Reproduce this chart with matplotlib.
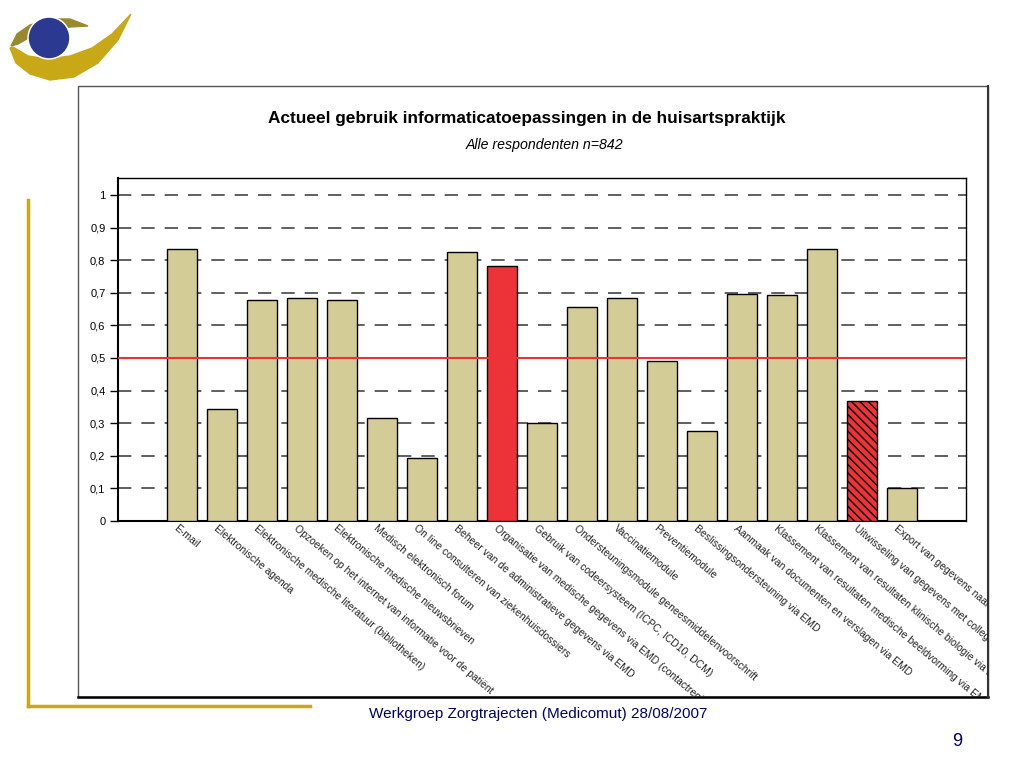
import numpy as np
import matplotlib
matplotlib.use("Agg")
import matplotlib.pyplot as plt
from matplotlib.patches import Rectangle, Circle, Polygon

plt.rcParams['font.family'] = ['Liberation Sans', 'DejaVu Sans']
plt.rcParams['hatch.color'] = '#333333'

labels = [
    "E-mail",
    "Elektronische agenda",
    "Elektronische medische literatuur (bibliotheken)",
    "Opzoeken op het internet van informatie voor de patiënt",
    "Elektronische medische nieuwsbrieven",
    "Medisch elektronisch forum",
    "On line consulteren van ziekenhuisdossiers",
    "Beheer van de administratieve gegevens via EMD",
    "Organisatie van medische gegevens via EMD (contactregistratie)",
    "Gebruik van codeersysteem (ICPC, ICD10, DCM)",
    "Ondersteuningsmodule geneesmiddelenvoorschrift",
    "Vaccinatiemodule",
    "Preventiemodule",
    "Beslissingsondersteuning via EMD",
    "Aanmaak van documenten en verslagen via EMD",
    "Klassement van resultaten medische beeldvorming via EMD",
    "Klassement van resultaten klinische biologie via EMD",
    "Uitwisseling van gegevens met collega's via EMD",
    "Export van gegevens naar andere toepassingen",
]
values = [0.834, 0.344, 0.678, 0.684, 0.678, 0.316, 0.193, 0.825, 0.782,
          0.300, 0.656, 0.684, 0.490, 0.276, 0.696, 0.693, 0.834, 0.368, 0.100]
highlight = [8]      # solid red
hatched = [17]       # hatched red
threshold = 0.5

khaki = '#D3CC97'
red = '#EE3338'
gold = '#C9A818'

fig = plt.figure(figsize=(10.24, 7.68), dpi=100)

# overlay in pixel coordinates for slide decoration
bg = fig.add_axes([0, 0, 1, 1])
bg.set_xlim(0, 1024)
bg.set_ylim(768, 0)
bg.axis('off')

# logo
bg.add_patch(Polygon([(10, 48), (16, 63), (30, 74), (50, 80), (74, 77), (98, 63),
                      (118, 40), (131, 14), (112, 34), (92, 48), (70, 56),
                      (48, 59), (28, 56), (13, 47)], closed=True, color=gold))
bg.add_patch(Polygon([(11, 46), (17, 34), (30, 25), (50, 19), (70, 19), (88, 26),
                      (70, 27), (50, 30), (32, 36), (18, 44)], closed=True,
                     color='#978A2E'))
bg.add_patch(Circle((49, 38), 21, color='white'))
bg.add_patch(Circle((49, 38), 19.5, color='#2B3990'))

# gold frame lines
bg.plot([28, 28], [200, 706], color=gold, lw=2.5)
bg.plot([28, 310], [706, 706], color=gold, lw=2.5)

# chart box
box = Rectangle((78, 86), 910, 611, fill=False, edgecolor='#555555', lw=1)
bg.add_patch(box)
bg.plot([78, 988], [697, 697], color='black', lw=1.8)
bg.plot([988, 988], [86, 697], color='#333333', lw=1.5)

bg.text(527, 118, "Actueel gebruik informaticatoepassingen in de huisartspraktijk",
        ha='center', va='center', fontsize=12.4, fontweight='bold')
bg.text(545, 145, "Alle respondenten n=842", ha='center', va='center',
        fontsize=10.2, style='italic')
bg.text(538, 714, "Werkgroep Zorgtrajecten (Medicomut) 28/08/2007",
        ha='center', va='center', fontsize=11, color='#000066')
bg.text(957, 741, "9", ha='center', va='center', fontsize=13, color='#000066')

# chart
ax = fig.add_axes([118 / 1024, 1 - 521 / 768, 848 / 1024, 343 / 768])
x = np.arange(1, len(values) + 1)
colors = [red if i in highlight + hatched else khaki for i in range(len(values))]
bars = ax.bar(x, values, width=0.75, color=colors, edgecolor='black', lw=1, zorder=3)
for i in hatched:
    bars[i].set_hatch('\\\\\\\\')

ax.axhline(threshold, color=red, lw=1.5, zorder=4)
ax.set_xlim(-0.6, 20.6)
ax.set_ylim(0, 1.052)
ax.set_yticks(np.arange(0, 1.01, 0.1))
ax.set_yticklabels(["0"] + ["0,%d" % k for k in range(1, 10)] + ["1"], fontsize=8)
ax.yaxis.grid(True, color='#444444', lw=1.2, dashes=(8, 6), zorder=0)
ax.tick_params(axis='y', length=6, width=1, direction='out', pad=3)
ax.set_xticks([])
for s in ax.spines.values():
    s.set_linewidth(1)
ax.spines['left'].set_linewidth(1.5)
ax.spines['bottom'].set_linewidth(1.5)

# labels are cut by the picture frame, as in the original slide
clip = Rectangle((78, 86), 910, 611, transform=bg.transData)
for xi, lab in zip(x, labels):
    t = ax.text(xi - 0.1, -0.006, lab, rotation=-40, rotation_mode='anchor',
                ha='left', va='top', fontsize=7.5, color='#222222')
    t.set_clip_on(True)
    t.set_clip_path(clip)

fig.savefig('out.png', dpi=100)
